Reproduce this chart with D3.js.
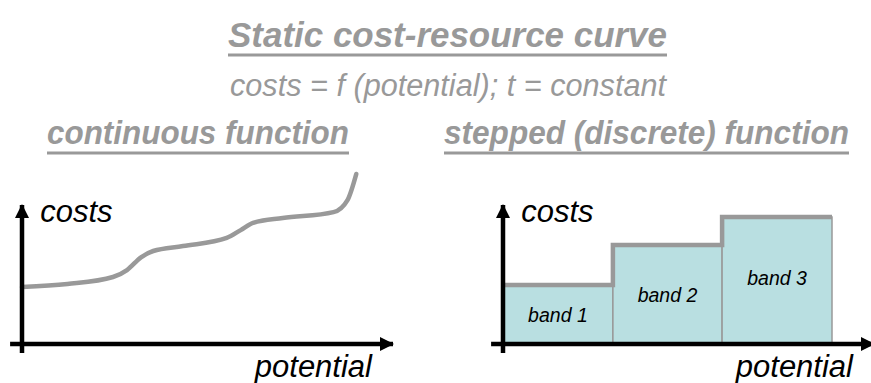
<!DOCTYPE html>
<html>
<head>
<meta charset="utf-8">
<script src="https://cdn.jsdelivr.net/npm/d3@7"></script>
<style>
  body { margin: 0; background: #fff; }
  svg { display: block; font-family: Arial, "Liberation Sans", sans-serif; }
</style>
</head>
<body>
<svg id="chart"></svg>
<script>
// continuous curve (potential, costs in %)
const curvePotential = [0, 13, 26, 30, 34, 37.5, 46, 58.5, 62.5, 66, 74.5, 89, 93, 95.5];
const curveCosts = [33.5, 35.3, 39.4, 43.5, 51, 54.7, 57.6, 62.4, 67, 71.2, 74.1, 77.6, 84.7, 100];

// stepped bands, right panel
const bandLabels = ["band 1", "band 2", "band 3"];
const bandStart = [0, 31.4, 62.6];
const bandEnd = [31.4, 62.6, 94];
const bandCost = [34.7, 58.2, 74.7];
const bandLabelAt = [13, 24.5, 34.7];

const titleText = "Static cost-resource curve";
const subtitleText = "costs = f (potential); t = constant";
const panelTitles = ["continuous function", "stepped (discrete) function"];
const xLabel = "potential", yLabel = "costs";

const W = 871, H = 383;
const grey = "#999999";

const svg = d3.select("#chart").attr("width", W).attr("height", H);

// arrow head marker
svg.append("defs").append("marker")
    .attr("id", "arrow")
    .attr("markerUnits", "userSpaceOnUse")
    .attr("viewBox", "0 0 14 14")
    .attr("refX", 13).attr("refY", 7)
    .attr("markerWidth", 14).attr("markerHeight", 14)
    .attr("orient", "auto")
    .append("path")
    .attr("d", "M0,0L14,7L0,14Z")
    .attr("fill", "#000");

// headings
function heading(txt, x, y, size, bold, len, underline) {
    svg.append("text")
        .attr("x", x).attr("y", y)
        .attr("font-size", size)
        .attr("font-style", "italic")
        .attr("font-weight", bold ? "bold" : "normal")
        .attr("fill", grey)
        .attr("textLength", len)
        .attr("lengthAdjust", "spacingAndGlyphs")
        .text(txt);
    if (underline) {
        svg.append("line")
            .attr("x1", x).attr("x2", x + len)
            .attr("y1", underline).attr("y2", underline)
            .attr("stroke", grey).attr("stroke-width", 3);
    }
}
heading(titleText, 228, 47, 35, true, 439, 55);
heading(subtitleText, 230, 96, 31, false, 436, null);
heading(panelTitles[0], 47, 144, 33, true, 302, 153);
heading(panelTitles[1], 444, 144, 33, true, 405, 153);

var y = d3.scaleLinear().domain([0, 100]).range([344, 174]);

function axes(x) {
    svg.append("line")
        .attr("x1", x(-3.4)).attr("x2", x(106))
        .attr("y1", y(0)).attr("y2", y(0))
        .attr("stroke", "#000").attr("stroke-width", 4.5)
        .attr("marker-end", "url(#arrow)");
    svg.append("line")
        .attr("x1", x(0)).attr("x2", x(0))
        .attr("y1", y(-5.3)).attr("y2", y(81.8))
        .attr("stroke", "#000").attr("stroke-width", 4.5)
        .attr("marker-end", "url(#arrow)");
    svg.append("text")
        .attr("x", x(5.2)).attr("y", y(71.8))
        .attr("font-size", 31).attr("font-style", "italic")
        .text(yLabel);
    svg.append("text")
        .attr("x", x(100)).attr("y", y(-19.6))
        .attr("text-anchor", "end")
        .attr("font-size", 31).attr("font-style", "italic")
        .text(xLabel);
}

// ---- left: continuous function
var xL = d3.scaleLinear().domain([0, 100]).range([22, 372]);
var pts = curvePotential.map(function(p, i) { return [p, curveCosts[i]]; });

var curve = d3.line()
    .x(function(d) { return xL(d[0]); })
    .y(function(d) { return y(d[1]); })
    .curve(d3.curveMonotoneX);

svg.append("path")
    .datum(pts)
    .attr("fill", "none")
    .attr("stroke", grey)
    .attr("stroke-width", 4.5)
    .attr("stroke-linecap", "round")
    .attr("stroke-linejoin", "round")
    .attr("d", curve);

axes(xL);

// ---- right: stepped function
var xR = d3.scaleLinear().domain([0, 100]).range([503, 853]);
var bands = bandLabels.map(function(l, i) {
    return { label: l, x0: bandStart[i], x1: bandEnd[i], cost: bandCost[i], at: bandLabelAt[i] };
});

svg.selectAll(".band").data(bands).enter().append("rect")
    .attr("class", "band")
    .attr("x", function(d) { return xR(d.x0); })
    .attr("width", function(d) { return xR(d.x1) - xR(d.x0); })
    .attr("y", function(d) { return y(d.cost); })
    .attr("height", function(d) { return y(0) - y(d.cost); })
    .attr("fill", "#b9dfe1")
    .attr("stroke", grey)
    .attr("stroke-width", 1.5);

svg.selectAll(".blabel").data(bands).enter().append("text")
    .attr("class", "blabel")
    .attr("x", function(d) { return xR((d.x0 + d.x1) / 2); })
    .attr("y", function(d) { return y(d.at); })
    .attr("text-anchor", "middle")
    .attr("font-size", 19.5).attr("font-style", "italic")
    .text(function(d) { return d.label; });

var stepPts = bands.map(function(d) { return [d.x0, d.cost]; });
stepPts.push([bands[bands.length - 1].x1, bands[bands.length - 1].cost]);

var step = d3.line()
    .x(function(d) { return xR(d[0]); })
    .y(function(d) { return y(d[1]); })
    .curve(d3.curveStepAfter);

svg.append("path")
    .datum(stepPts)
    .attr("fill", "none")
    .attr("stroke", grey)
    .attr("stroke-width", 4.5)
    .attr("d", step);

axes(xR);
</script>
</body>
</html>
